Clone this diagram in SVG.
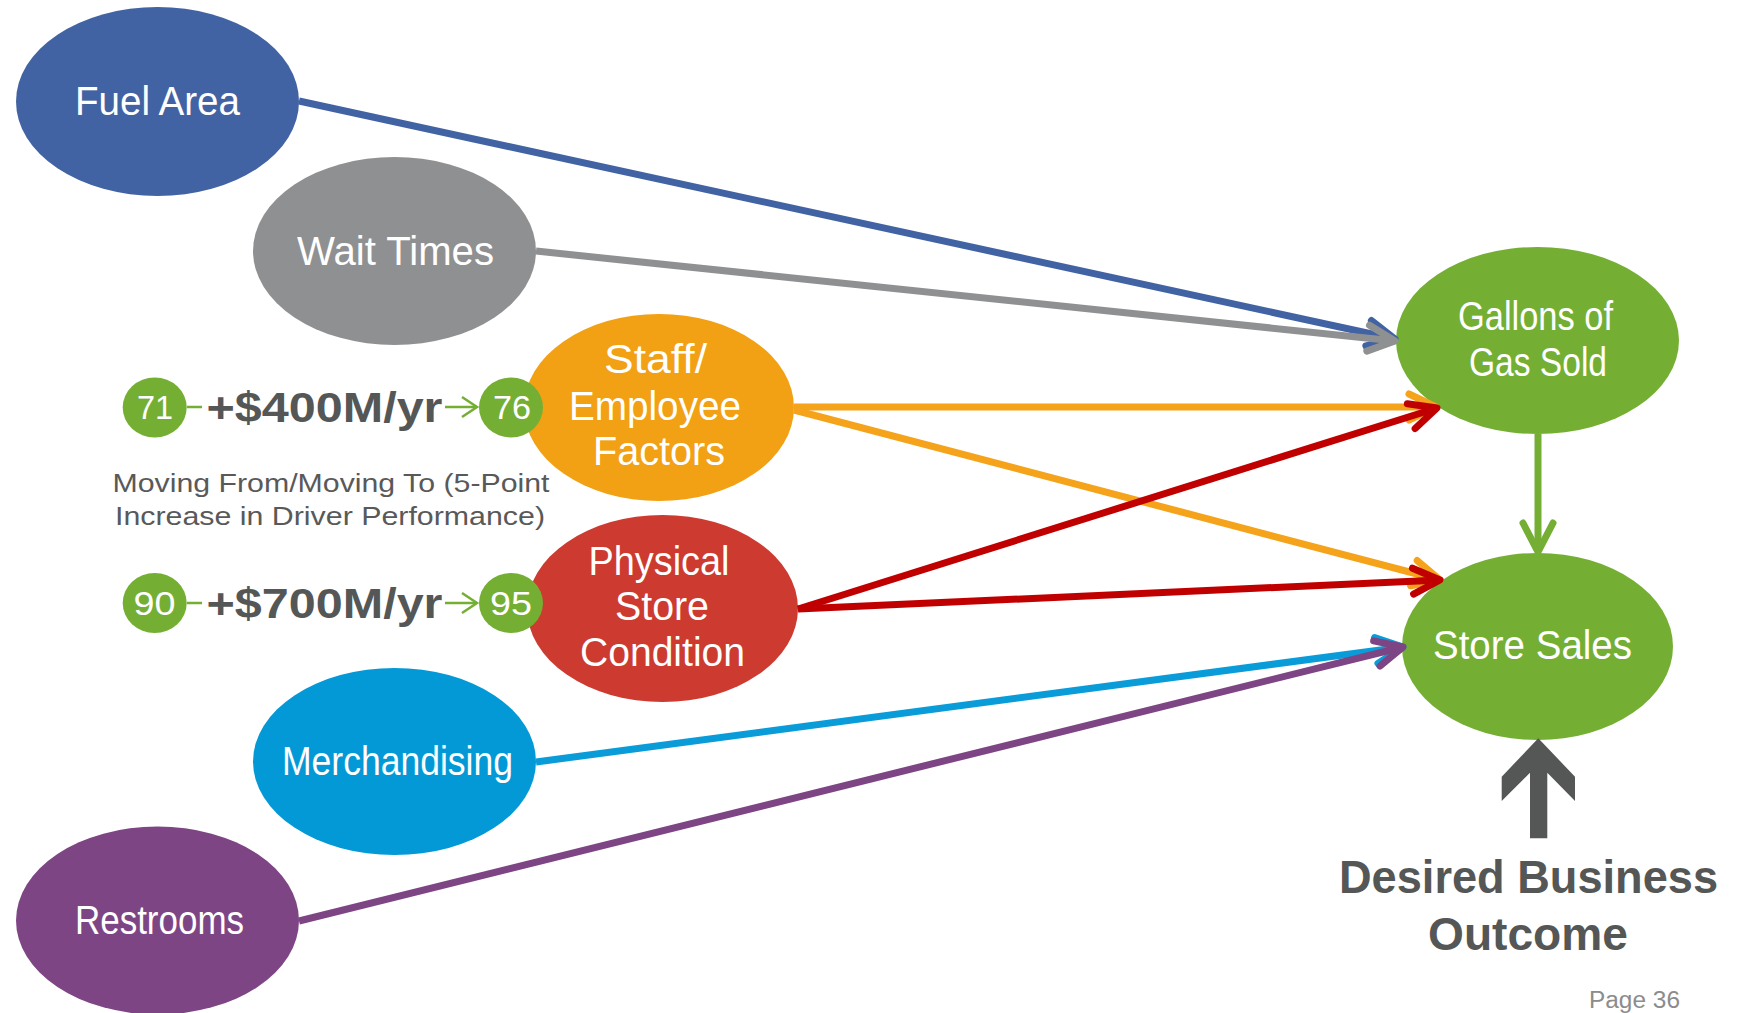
<svg xmlns="http://www.w3.org/2000/svg" width="1737" height="1013" viewBox="0 0 1737 1013">
  <style>
    .lbl { font-family: "Liberation Sans", Arial, sans-serif; fill: #ffffff; text-anchor: middle; font-size: 40px; }
    .num { font-family: "Liberation Sans", Arial, sans-serif; fill: #ffffff; text-anchor: middle; font-size: 34px; }
    .gain { font-family: "Liberation Sans", Arial, sans-serif; fill: #555756; font-weight: bold; font-size: 42px; }
    .note { font-family: "Liberation Sans", Arial, sans-serif; fill: #595959; text-anchor: middle; font-size: 26px; }
    .outcome { font-family: "Liberation Sans", Arial, sans-serif; fill: #555756; text-anchor: middle; font-weight: bold; font-size: 46px; }
    .page { font-family: "Liberation Sans", Arial, sans-serif; fill: #8c8c8c; font-size: 23px; }
    .edge { fill: none; stroke-width: 7; stroke-linecap: butt; }
    .head { fill: none; stroke-width: 7; stroke-linecap: round; stroke-linejoin: round; }
    .green { fill: #74af34; }
  </style>
  <defs>
    <marker id="ah-blue" markerUnits="userSpaceOnUse" orient="auto" markerWidth="60" markerHeight="60" refX="0" refY="0" viewBox="-40 -30 60 60" overflow="visible">
      <path class="head" stroke="#4263a3" d="M-27,-13 L0,0 L-27,13"/>
    </marker>
    <marker id="ah-gray" markerUnits="userSpaceOnUse" orient="auto" markerWidth="60" markerHeight="60" refX="0" refY="0" viewBox="-40 -30 60 60" overflow="visible">
      <path class="head" stroke="#8f9092" d="M-27,-13 L0,0 L-27,13"/>
    </marker>
    <marker id="ah-orange" markerUnits="userSpaceOnUse" orient="auto" markerWidth="60" markerHeight="60" refX="0" refY="0" viewBox="-40 -30 60 60" overflow="visible">
      <path class="head" stroke="#f4a31a" d="M-27,-13 L0,0 L-27,13"/>
    </marker>
    <marker id="ah-red" markerUnits="userSpaceOnUse" orient="auto" markerWidth="60" markerHeight="60" refX="0" refY="0" viewBox="-40 -30 60 60" overflow="visible">
      <path class="head" stroke="#c00000" stroke-width="8" d="M-27,-13 L0,0 L-27,13"/>
    </marker>
    <marker id="ah-cyan" markerUnits="userSpaceOnUse" orient="auto" markerWidth="60" markerHeight="60" refX="0" refY="0" viewBox="-40 -30 60 60" overflow="visible">
      <path class="head" stroke="#0a9cd9" d="M-27,-13 L0,0 L-27,13"/>
    </marker>
    <marker id="ah-purple" markerUnits="userSpaceOnUse" orient="auto" markerWidth="60" markerHeight="60" refX="0" refY="0" viewBox="-40 -30 60 60" overflow="visible">
      <path class="head" stroke="#7e4585" d="M-27,-13 L0,0 L-27,13"/>
    </marker>
    <marker id="ah-green" markerUnits="userSpaceOnUse" orient="auto" markerWidth="60" markerHeight="60" refX="0" refY="0" viewBox="-40 -30 60 60" overflow="visible">
      <path class="head" stroke="#74af34" stroke-width="6" d="M-29,-15 L0,0 L-29,15"/>
    </marker>
    <marker id="ah-small" markerUnits="userSpaceOnUse" orient="auto" markerWidth="30" markerHeight="30" refX="0" refY="0" viewBox="-20 -15 30 30" overflow="visible">
      <path fill="none" stroke="#74af34" stroke-width="2.5" stroke-linejoin="miter" d="M-15,-10 L0,0 L-15,10"/>
    </marker>
  </defs>

  <!-- driver nodes -->
  <g id="node-fuel-area">
    <ellipse cx="157.5" cy="101.5" rx="141.5" ry="94.5" fill="#4263a3"/>
    <text class="lbl" x="157.5" y="115" textLength="165" lengthAdjust="spacingAndGlyphs">Fuel Area</text>
  </g>
  <g id="node-wait-times">
    <ellipse cx="394.5" cy="251" rx="141.5" ry="94" fill="#8f9092"/>
    <text class="lbl" x="395.5" y="265" textLength="197" lengthAdjust="spacingAndGlyphs">Wait Times</text>
  </g>
  <g id="node-staff">
    <ellipse cx="659" cy="407.5" rx="135" ry="93.5" fill="#f2a014"/>
    <text class="lbl" x="655.5" y="373" textLength="103" lengthAdjust="spacingAndGlyphs">Staff/</text>
    <text class="lbl" x="655" y="420" textLength="172" lengthAdjust="spacingAndGlyphs">Employee</text>
    <text class="lbl" x="659" y="465" textLength="132" lengthAdjust="spacingAndGlyphs">Factors</text>
  </g>
  <g id="node-physical">
    <ellipse cx="662.5" cy="608.5" rx="135.5" ry="93.5" fill="#cc3a30"/>
    <text class="lbl" x="659" y="575" textLength="141" lengthAdjust="spacingAndGlyphs">Physical</text>
    <text class="lbl" x="662" y="620" textLength="94" lengthAdjust="spacingAndGlyphs">Store</text>
    <text class="lbl" x="662.5" y="666" textLength="165" lengthAdjust="spacingAndGlyphs">Condition</text>
  </g>
  <g id="node-merchandising">
    <ellipse cx="394.5" cy="761.5" rx="141.5" ry="93.5" fill="#0399d6"/>
    <text class="lbl" x="397.5" y="775" textLength="231" lengthAdjust="spacingAndGlyphs">Merchandising</text>
  </g>
  <g id="node-restrooms">
    <ellipse cx="157.5" cy="920.5" rx="141.5" ry="94" fill="#7e4585"/>
    <text class="lbl" x="159.5" y="934" textLength="169" lengthAdjust="spacingAndGlyphs">Restrooms</text>
  </g>

  <!-- outcome nodes -->
  <g id="node-gallons">
    <ellipse cx="1537.5" cy="340.5" rx="141.5" ry="93.5" class="green"/>
    <text class="lbl" x="1535.5" y="330" textLength="155" lengthAdjust="spacingAndGlyphs">Gallons of</text>
    <text class="lbl" x="1538" y="376" textLength="138" lengthAdjust="spacingAndGlyphs">Gas Sold</text>
  </g>
  <g id="node-store-sales">
    <ellipse cx="1537.5" cy="646.5" rx="135.5" ry="93.5" class="green"/>
    <text class="lbl" x="1532.5" y="659" textLength="199" lengthAdjust="spacingAndGlyphs">Store Sales</text>
  </g>

  <!-- connectors -->
  <g id="connectors">
    <line class="edge" stroke="#4263a3" x1="299" y1="101" x2="1395" y2="339" marker-end="url(#ah-blue)"/>
    <line class="edge" stroke="#8f9092" x1="536" y1="251" x2="1395" y2="341" marker-end="url(#ah-gray)"/>
    <line class="edge" stroke="#f4a31a" x1="794" y1="407" x2="1436" y2="407" marker-end="url(#ah-orange)"/>
    <line class="edge" stroke="#f4a31a" x1="794" y1="410" x2="1440" y2="580" marker-end="url(#ah-orange)"/>
    <line class="edge" stroke="#c00000" stroke-width="8" x1="798" y1="609" x2="1437" y2="408" marker-end="url(#ah-red)"/>
    <line class="edge" stroke="#c00000" stroke-width="8" x1="798" y1="609" x2="1440" y2="580" marker-end="url(#ah-red)"/>
    <line class="edge" stroke="#0a9cd9" x1="536" y1="762" x2="1403" y2="647" marker-end="url(#ah-cyan)"/>
    <line class="edge" stroke="#7e4585" x1="299" y1="921" x2="1403" y2="647" marker-end="url(#ah-purple)"/>
    <line class="edge" stroke="#74af34" stroke-width="6" x1="1538" y1="434" x2="1538" y2="552" marker-end="url(#ah-green)"/>
  </g>

  <!-- score movement for staff -->
  <g id="score-staff">
    <ellipse cx="154.7" cy="407.5" rx="32" ry="30" class="green"/>
    <text class="num" x="155" y="419" textLength="36" lengthAdjust="spacingAndGlyphs">71</text>
    <line x1="187" y1="407" x2="202" y2="407" stroke="#74af34" stroke-width="2.5"/>
    <text class="gain" x="206.5" y="422" textLength="236" lengthAdjust="spacingAndGlyphs">+$400M/yr</text>
    <line x1="445" y1="407" x2="477" y2="407" stroke="#74af34" stroke-width="2.5" marker-end="url(#ah-small)"/>
    <ellipse cx="511" cy="407.5" rx="32" ry="30" class="green"/>
    <text class="num" x="512" y="419" textLength="38" lengthAdjust="spacingAndGlyphs">76</text>
  </g>
  <g id="score-note">
    <text class="note" x="331" y="492" textLength="437" lengthAdjust="spacingAndGlyphs">Moving From/Moving To (5-Point</text>
    <text class="note" x="330" y="525" textLength="430" lengthAdjust="spacingAndGlyphs">Increase in Driver Performance)</text>
  </g>
  <!-- score movement for physical store -->
  <g id="score-physical">
    <ellipse cx="154.7" cy="603" rx="32" ry="30" class="green"/>
    <text class="num" x="154.5" y="615" textLength="42" lengthAdjust="spacingAndGlyphs">90</text>
    <line x1="187" y1="603" x2="202" y2="603" stroke="#74af34" stroke-width="2.5"/>
    <text class="gain" x="206.5" y="618" textLength="236" lengthAdjust="spacingAndGlyphs">+$700M/yr</text>
    <line x1="445" y1="603" x2="477" y2="603" stroke="#74af34" stroke-width="2.5" marker-end="url(#ah-small)"/>
    <ellipse cx="511" cy="603" rx="32" ry="30" class="green"/>
    <text class="num" x="511" y="615" textLength="42" lengthAdjust="spacingAndGlyphs">95</text>
  </g>

  <!-- desired outcome callout -->
  <g id="desired-outcome">
    <polygon fill="#555756" points="1538.3,738.3 1575,776.7 1575,801 1547.3,772.7 1547.3,838.3 1530,838.3 1530,772.7 1501.7,801 1501.7,776.7"/>
    <text class="outcome" x="1528.5" y="893" textLength="379" lengthAdjust="spacingAndGlyphs">Desired Business</text>
    <text class="outcome" x="1528" y="950" textLength="200" lengthAdjust="spacingAndGlyphs">Outcome</text>
  </g>

  <text class="page" x="1589" y="1008" textLength="91" lengthAdjust="spacingAndGlyphs">Page 36</text>
</svg>
